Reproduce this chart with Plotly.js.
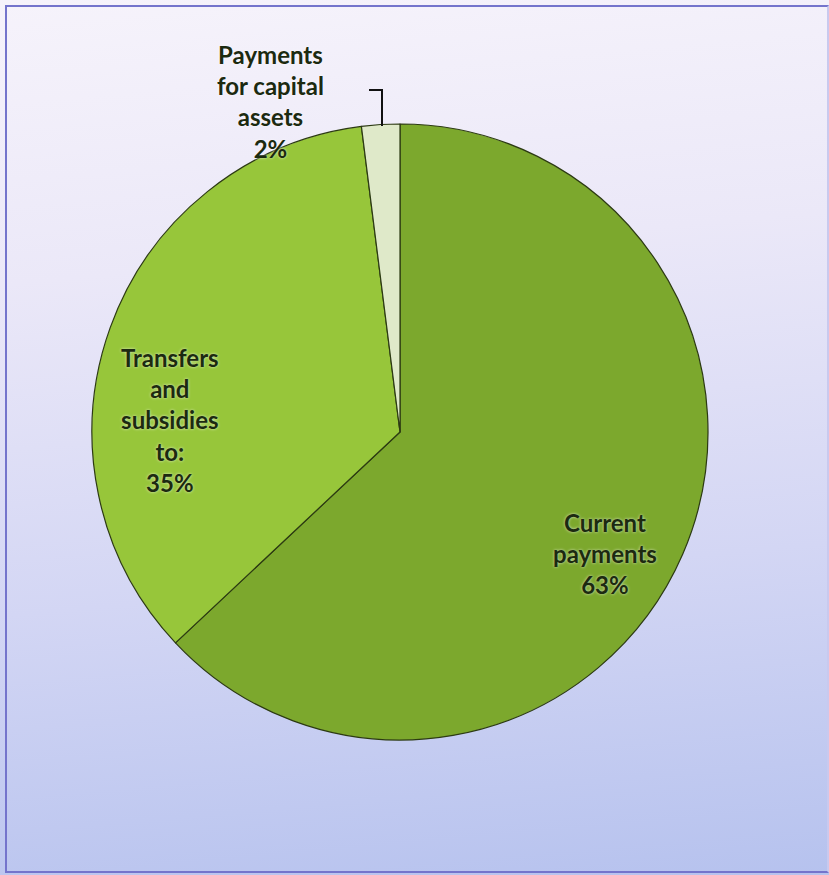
<!DOCTYPE html>
<html>
<head>
<meta charset="utf-8">
<script src="https://cdn.plot.ly/plotly-3.0.1.min.js"></script>
<style>
  html, body { margin:0; padding:0; width:829px; height:875px; overflow:hidden; }
  body { background: linear-gradient(175deg, #f6f3fb 0%, #ebe8f8 30%, #d3d6f4 65%, #b6c2ee 100%); }
  #frame { position:absolute; left:5px; top:5px; width:820px; height:864px; border:2px solid #7474cc; border-right-color:#c9c9ee; }
  #chart { position:absolute; left:0; top:0; width:829px; height:875px; }
</style>
</head>
<body>
<div id="frame"></div>
<div id="chart"></div>
<script>
// Data
const categories = ["Current payments", "Transfers and subsidies to:", "Payments for capital assets"];
const values = [63, 35, 2];
const labelLines = [
  ["Current", "payments"],
  ["Transfers", "and", "subsidies", "to:"],
  ["Payments", "for capital", "assets"]
];

// Styles / positions
const sliceColors = ["#7ca82d", "#97c63a", "#dfe9c9"];
const W = 829, H = 875;
const labelPos = [ {x:605, y:553}, {x:170, y:420}, {x:270, y:101} ];

const trace = {
  type: "pie",
  labels: categories,
  values: values,
  sort: false,
  direction: "clockwise",
  rotation: 0,
  textinfo: "none",
  hoverinfo: "label+percent",
  marker: { colors: sliceColors, line: { color: "#2c3a12", width: 1.2 } },
  domain: { x: [92/W, 708/W], y: [(H-432-308)/H, (H-432+308)/H] },
  showlegend: false
};

const annotations = categories.map((c, i) => ({
  xref: "paper", yref: "paper",
  x: labelPos[i].x / W, y: 1 - labelPos[i].y / H,
  xanchor: "center", yanchor: "middle",
  showarrow: false,
  align: "center",
  text: labelLines[i].concat([values[i] + "%"]).join("<br>"),
  font: { family: "Lato, 'Open Sans', sans-serif", size: 24, color: "#1c2a10", weight: 700,
          shadow: "0px 0px 3px rgba(255,255,255,0.7)" }
}));

const px = (x) => x / W, py = (y) => 1 - y / H;
const shapes = [{
  type: "path", xref: "paper", yref: "paper",
  path: `M ${px(382)} ${py(126)} L ${px(382)} ${py(90)} L ${px(369)} ${py(90)}`,
  line: { color: "#111111", width: 2 }
}];

const layout = {
  width: W, height: H,
  margin: { l:0, r:0, t:0, b:0 },
  paper_bgcolor: "rgba(0,0,0,0)",
  plot_bgcolor: "rgba(0,0,0,0)",
  annotations: annotations,
  shapes: shapes,
  font: { family: "Lato, sans-serif" }
};

Plotly.newPlot("chart", [trace], layout, { displayModeBar: false, staticPlot: true });
</script>
</body>
</html>
